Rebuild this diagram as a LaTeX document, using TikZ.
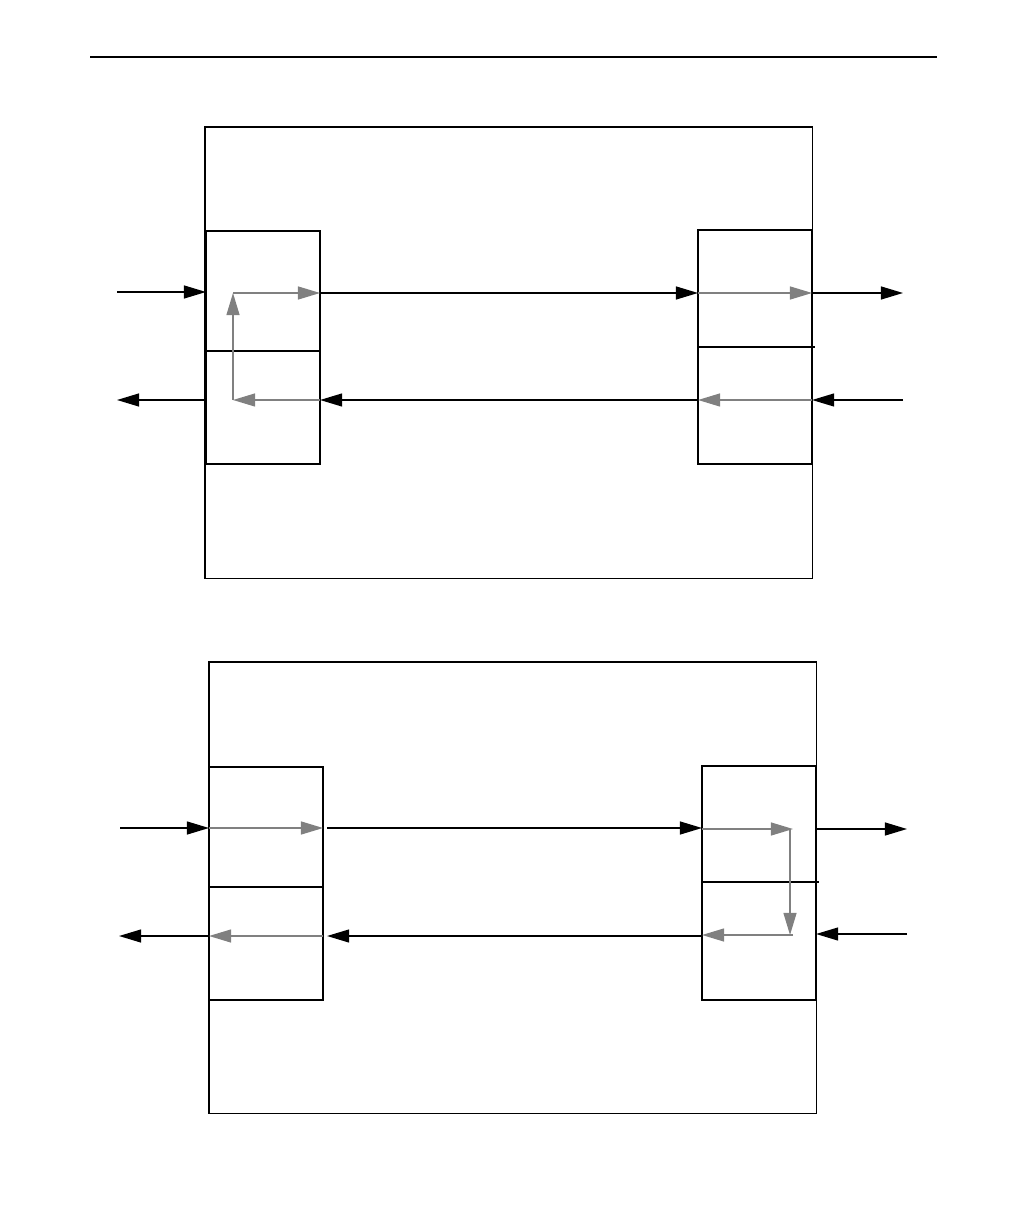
\documentclass[tikz,border=0pt]{standalone}
\usetikzlibrary{arrows.meta}
\begin{document}
\begin{tikzpicture}[x=0.01cm,y=-0.01cm,line cap=butt]
        % Styles
        \tikzstyle{frame}=[draw,line width=0.4pt,inner sep=0,outer sep=0,anchor=north west,minimum width=6.07cm,minimum height=4.51cm]
        \tikzstyle{port}=[draw,line width=0.4pt,inner sep=0,outer sep=0,anchor=north west,minimum width=1.14cm]
        \tikzstyle{signal line}=[line width=0.4pt,-{Triangle[length=6.3pt,width=3.7pt]}]
        \tikzstyle{loop line}=[line width=0.4pt,gray,-{Triangle[length=6.3pt,width=3.7pt]}]
        %The graphic
        \useasboundingbox (0,0) rectangle (1009,1225);
        \draw[line width=0.6pt] (90,57) -- (937,57);
        %upper picture
        \node[frame] (big1) at (205,127) {};
        \node[port,minimum height=1.20cm] (lt1) at (206,231) {};
        \node[port,minimum height=1.13cm] (lb1) at (206,351) {};
        \node[port,minimum height=1.17cm] (rt1) at (698,230) {};
        \node[port,minimum height=1.17cm] (rb1) at (698,347) {};
        \draw[line width=0.4pt] (rt1.south east) -- ++(3,0);
        \coordinate (in1) at (117,292);
        \coordinate (out1) at (117,400);
        \coordinate (to1) at (903,293);
        \coordinate (from1) at (903,400);
        \coordinate (turn1) at (233,400);
        \coordinate (up1) at (233,293);
            \draw[signal line] (in1) -- (in1 -| lt1.west);
            \draw[signal line] (lb1.west |- out1) -- (out1);
            \draw[loop line] (turn1) -- (up1);
            \draw[loop line] (up1) -- (up1 -| lt1.east);
            \draw[loop line] (turn1 -| lb1.east) -- (turn1);
            \draw[signal line] (lt1.east |- up1) -- (rt1.west |- up1);
            \draw[signal line] (rb1.west |- turn1) -- (lb1.east |- turn1);
            \draw[loop line] (rt1.west |- to1) -- (rt1.east |- to1);
            \draw[signal line] (rt1.east |- to1) -- (to1);
            \draw[signal line] (from1) -- (rb1.east |- from1);
            \draw[loop line] (rb1.east |- from1) -- (rb1.west |- from1);
        %lower picture
        \node[frame] (big2) at (209,662) {};
        \node[port,minimum height=1.20cm] (lt2) at (209,767) {};
        \node[port,minimum height=1.13cm] (lb2) at (209,887) {};
        \node[port,minimum height=1.16cm] (rt2) at (702,766) {};
        \node[port,minimum height=1.18cm] (rb2) at (702,882) {};
        \draw[line width=0.4pt] (rt2.south east) -- ++(3,0);
        \coordinate (in2) at (120,828);
        \coordinate (out2) at (119,936);
        \coordinate (to2) at (907,829);
        \coordinate (from2) at (907,934);
        \coordinate (down2) at (790,829);
        \coordinate (back2) at (790,935);
            \draw[signal line] (in2) -- (in2 -| lt2.west);
            \draw[loop line] (in2 -| lt2.west) -- (in2 -| lt2.east);
            \draw[signal line] ([xshift=0.04cm]lt2.east |- in2) -- (rt2.west |- in2);
            \draw[loop line] (rt2.west |- down2) -- ([xshift=0.03cm]down2);
            \draw[loop line] (down2) -- (back2);
            \draw[loop line] ([xshift=0.03cm]back2) -- (rb2.west |- back2);
            \draw[signal line] (rb2.west |- out2) -- ([xshift=0.04cm]lb2.east |- out2);
            \draw[loop line] (lb2.east |- out2) -- (lb2.west |- out2);
            \draw[signal line] (lb2.west |- out2) -- (out2);
            \draw[signal line] (rt2.east |- to2) -- (to2);
            \draw[signal line] (from2) -- (rb2.east |- from2);
\end{tikzpicture}
\end{document}
